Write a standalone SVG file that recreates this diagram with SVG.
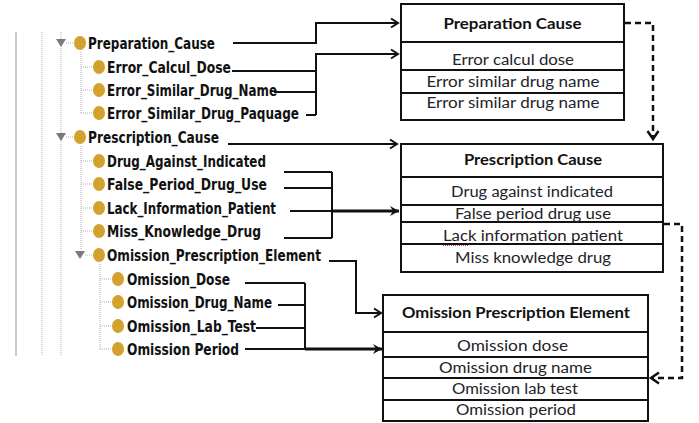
<svg xmlns="http://www.w3.org/2000/svg" width="699" height="423" viewBox="0 0 699 423">
<defs>
<style>
.tree{font-family:"DejaVu Sans Condensed","DejaVu Sans",sans-serif;font-weight:bold;font-size:15px;fill:#111}
.hdr{font-family:Lato,"Liberation Sans",sans-serif;font-weight:bold;font-size:15.5px;fill:#111;text-anchor:middle}
.row{font-family:Lato,"Liberation Sans",sans-serif;font-size:15.5px;fill:#1e2328;text-anchor:middle}
.box{fill:#fff;stroke:#111;stroke-width:2}
.div{stroke:#111;stroke-width:2}
.dot{fill:#D2A12E}
.tri{fill:#7a7a7a}
.dotted{stroke:#b0b0b0;stroke-width:1;stroke-dasharray:1 1;fill:none}
.solidg{stroke:#b8b8b8;stroke-width:1.5}
.c{fill:none;stroke:#111;stroke-width:2}
.ct{fill:none;stroke:#111;stroke-width:3}
.cd{fill:none;stroke:#111;stroke-width:2.5;stroke-dasharray:6 4}
</style>
<marker id="chev" markerUnits="userSpaceOnUse" markerWidth="12" markerHeight="12" refX="9" refY="6" orient="auto">
<path d="M2,1.5 L9,6 L2,10.5" fill="none" stroke="#111" stroke-width="2"/>
</marker>
<marker id="tri" markerUnits="userSpaceOnUse" markerWidth="12" markerHeight="12" refX="10" refY="6" orient="auto">
<path d="M1,1 L10,6 L1,11 L4,6 Z" fill="#111"/>
</marker>
<marker id="chevd" markerUnits="userSpaceOnUse" markerWidth="14" markerHeight="14" refX="10" refY="7" orient="auto">
<path d="M2,1.5 L10,7 L2,12.5" fill="none" stroke="#111" stroke-width="2.5"/>
</marker>
</defs>
<rect width="699" height="423" fill="#fff"/>

<g id="tree-guides">
<line class="solidg" x1="16" y1="32" x2="16" y2="356"/>
<line class="dotted" x1="42" y1="32" x2="42" y2="356"/>
<line class="dotted" x1="61" y1="32" x2="61" y2="356"/>
<path class="dotted" d="M81,52 V113 M81,67 H93 M81,90 H93 M81,113 H93"/>
<path class="dotted" d="M81,146 V250 M81,161 H93 M81,184 H93 M81,208 H93 M81,231 H93"/>
<path class="dotted" d="M100,264 V349 M100,279 H112 M100,302 H112 M100,326 H112 M100,349 H112"/>
<path class="dotted" d="M66,43 H74 M66,137 H74 M85,255 H93"/>
</g>

<g id="t-preparation-cause">
<polygon class="tri" points="56,39 66,39 61,47"/>
<ellipse class="dot" cx="80" cy="43" rx="6" ry="7"/>
<text class="tree" x="88" y="49" textLength="127" lengthAdjust="spacingAndGlyphs">Preparation_Cause</text>
</g>
<g id="t-error-calcul-dose">
<ellipse class="dot" cx="99" cy="67" rx="6" ry="7"/>
<text class="tree" x="107" y="73" textLength="124" lengthAdjust="spacingAndGlyphs">Error_Calcul_Dose</text>
</g>
<g id="t-error-similar-drug-name">
<ellipse class="dot" cx="99" cy="90" rx="6" ry="7"/>
<text class="tree" x="107" y="96" textLength="170" lengthAdjust="spacingAndGlyphs">Error_Similar_Drug_Name</text>
</g>
<g id="t-error-similar-drug-paquage">
<ellipse class="dot" cx="99" cy="113" rx="6" ry="7"/>
<text class="tree" x="107" y="119" textLength="192" lengthAdjust="spacingAndGlyphs">Error_Similar_Drug_Paquage</text>
</g>
<g id="t-prescription-cause">
<polygon class="tri" points="56,133 66,133 61,141"/>
<ellipse class="dot" cx="80" cy="137" rx="6" ry="7"/>
<text class="tree" x="88" y="143" textLength="131" lengthAdjust="spacingAndGlyphs">Prescription_Cause</text>
</g>
<g id="t-drug-against-indicated">
<ellipse class="dot" cx="99" cy="161" rx="6" ry="7"/>
<text class="tree" x="107" y="167" textLength="159" lengthAdjust="spacingAndGlyphs">Drug_Against_Indicated</text>
</g>
<g id="t-false-period-drug-use">
<ellipse class="dot" cx="99" cy="184" rx="6" ry="7"/>
<text class="tree" x="107" y="190" textLength="160" lengthAdjust="spacingAndGlyphs">False_Period_Drug_Use</text>
</g>
<g id="t-lack-information-patient">
<ellipse class="dot" cx="99" cy="208" rx="6" ry="7"/>
<text class="tree" x="107" y="214" textLength="169" lengthAdjust="spacingAndGlyphs">Lack_Information_Patient</text>
</g>
<g id="t-miss-knowledge-drug">
<ellipse class="dot" cx="99" cy="231" rx="6" ry="7"/>
<text class="tree" x="107" y="237" textLength="154" lengthAdjust="spacingAndGlyphs">Miss_Knowledge_Drug</text>
</g>
<g id="t-omission-prescription-element">
<polygon class="tri" points="75,251 85,251 80,259"/>
<ellipse class="dot" cx="99" cy="255" rx="6" ry="7"/>
<text class="tree" x="107" y="261" textLength="214" lengthAdjust="spacingAndGlyphs">Omission_Prescription_Element</text>
</g>
<g id="t-omission-dose">
<ellipse class="dot" cx="118" cy="279" rx="6" ry="7"/>
<text class="tree" x="127" y="285" textLength="103" lengthAdjust="spacingAndGlyphs">Omission_Dose</text>
</g>
<g id="t-omission-drug-name">
<ellipse class="dot" cx="118" cy="302" rx="6" ry="7"/>
<text class="tree" x="127" y="308" textLength="145" lengthAdjust="spacingAndGlyphs">Omission_Drug_Name</text>
</g>
<g id="t-omission-lab-test">
<ellipse class="dot" cx="118" cy="326" rx="6" ry="7"/>
<text class="tree" x="127" y="332" textLength="129" lengthAdjust="spacingAndGlyphs">Omission_Lab_Test</text>
</g>
<g id="t-omission-period">
<ellipse class="dot" cx="118" cy="349" rx="6" ry="7"/>
<text class="tree" x="127" y="355" textLength="112" lengthAdjust="spacingAndGlyphs">Omission Period</text>
</g>

<g id="box-preparation-cause">
<rect class="box" x="401" y="4" width="223" height="116"/>
<line class="div" x1="401" y1="42" x2="624" y2="42"/>
<line class="div" x1="401" y1="70" x2="624" y2="70"/>
<line class="div" x1="401" y1="93" x2="624" y2="93"/>
<text class="hdr" x="512.5" y="29" textLength="138" lengthAdjust="spacingAndGlyphs">Preparation Cause</text>
<text class="row" x="513" y="65" textLength="122" lengthAdjust="spacingAndGlyphs">Error calcul dose</text>
<text class="row" x="513" y="87" textLength="173" lengthAdjust="spacingAndGlyphs">Error similar drug name</text>
<text class="row" x="513" y="108" textLength="173" lengthAdjust="spacingAndGlyphs">Error similar drug name</text>
</g>

<g id="box-prescription-cause">
<rect class="box" x="401" y="144" width="262" height="128"/>
<line class="div" x1="401" y1="177" x2="663" y2="177"/>
<line class="div" x1="401" y1="205" x2="663" y2="205"/>
<line class="div" x1="401" y1="222" x2="663" y2="222"/>
<line class="div" x1="401" y1="244" x2="663" y2="244"/>
<text class="hdr" x="533" y="165" textLength="138" lengthAdjust="spacingAndGlyphs">Prescription Cause</text>
<text class="row" x="532" y="197" textLength="162" lengthAdjust="spacingAndGlyphs">Drug against indicated</text>
<text class="row" x="533" y="219" textLength="156" lengthAdjust="spacingAndGlyphs">False period drug use</text>
<text class="row" x="533" y="241" textLength="180" lengthAdjust="spacingAndGlyphs">Lack information patient</text>
<line x1="443" y1="245.5" x2="468" y2="245.5" stroke="#d04040" stroke-width="1" stroke-dasharray="1 1"/>
<text class="row" x="533" y="263" textLength="156" lengthAdjust="spacingAndGlyphs">Miss knowledge drug</text>
</g>

<g id="box-omission-prescription-element">
<rect class="box" x="383" y="295" width="265" height="126"/>
<line class="div" x1="383" y1="332" x2="648" y2="332"/>
<line class="div" x1="383" y1="357" x2="648" y2="357"/>
<line class="div" x1="383" y1="378" x2="648" y2="378"/>
<line class="div" x1="383" y1="400" x2="648" y2="400"/>
<text class="hdr" x="516" y="318" textLength="228" lengthAdjust="spacingAndGlyphs">Omission Prescription Element</text>
<text class="row" x="512.5" y="351" textLength="111" lengthAdjust="spacingAndGlyphs">Omission dose</text>
<text class="row" x="515.5" y="373" textLength="153" lengthAdjust="spacingAndGlyphs">Omission drug name</text>
<text class="row" x="515" y="394" textLength="126" lengthAdjust="spacingAndGlyphs">Omission lab test</text>
<text class="row" x="516" y="415" textLength="120" lengthAdjust="spacingAndGlyphs">Omission period</text>
</g>

<g id="connectors">
<path class="c" d="M233,43 H316 V23 H398" marker-end="url(#chev)"/>
<path class="c" d="M232,71 H316 M274,92 H316 M306,115 H316"/>
<path class="c" d="M316,115 V54 H398" marker-end="url(#chev)"/>
<path class="c" d="M228,144 H397" marker-end="url(#chev)"/>
<path class="c" d="M284,172 H332 M284,188 H332 M290,211 H332 M284,238 H332 M332,172 V238"/>
<path class="ct" d="M332,211 H399" marker-end="url(#tri)"/>
<path class="c" d="M329,261 H356 V313 H381" marker-end="url(#chev)"/>
<path class="c" d="M245,283 H305 M278,305 H305 M256,328 H305 M245,349 H305 M305,283 V349"/>
<path class="ct" d="M305,349 H382" marker-end="url(#tri)"/>
<path class="cd" d="M625,23 H653 V139" marker-end="url(#chevd)"/>
<path class="cd" d="M664,224 H682 V378 H651" marker-end="url(#chevd)"/>
</g>
</svg>
